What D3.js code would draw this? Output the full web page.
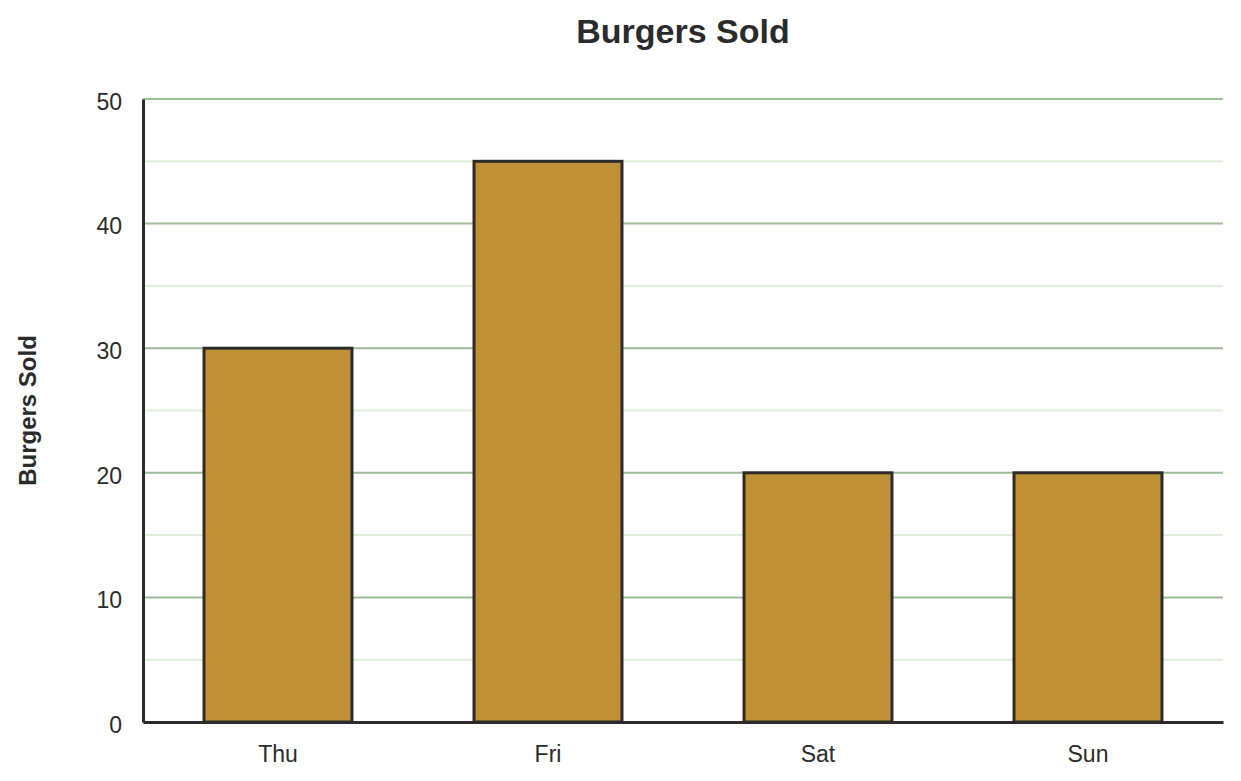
<!DOCTYPE html>
<html><head><meta charset="utf-8">
<script src="https://cdn.jsdelivr.net/npm/d3@7"></script>
<style>body{margin:0;background:#fff;font-family:Arial,"Liberation Sans",sans-serif;}</style>
</head><body><svg id="c" width="1241" height="781"></svg>
<script>
const categories = ["Thu","Fri","Sat","Sun"];
const values = [30,45,20,20];
const majorTicks = [0,10,20,30,40,50];
const minorTicks = [5,15,25,35,45];

const svg = d3.select("#c");
const m = {l:143, r:1223, t:99, b:722};
const x = d3.scaleBand().domain(categories).range([m.l,m.r]).paddingInner(0.452).paddingOuter(0.226);
const y = d3.scaleLinear().domain([0,50]).range([m.b,m.t]);

svg.append("g").selectAll("line").data(minorTicks).join("line")
  .attr("x1",m.l).attr("x2",m.r).attr("y1",d=>y(d)).attr("y2",d=>y(d))
  .attr("stroke","#dfeed6").attr("stroke-width",2);
svg.append("g").selectAll("line").data(majorTicks.filter(d=>d>0)).join("line")
  .attr("x1",m.l).attr("x2",m.r).attr("y1",d=>y(d)).attr("y2",d=>y(d))
  .attr("stroke","#9dbd98").attr("stroke-width",2);

svg.append("g").selectAll("rect").data(values).join("rect")
  .attr("x",(d,i)=>x(categories[i])).attr("width",x.bandwidth())
  .attr("y",d=>y(d)).attr("height",d=>y(0)-y(d))
  .attr("fill","#bf9036").attr("stroke","#2b2b2b").attr("stroke-width",3);

// axes
const ya = svg.append("g").attr("transform",`translate(${m.l},0)`)
  .call(d3.axisLeft(y).tickValues(majorTicks).tickSize(0).tickPadding(21));
ya.select(".domain").attr("stroke","#2b2b2b").attr("stroke-width",3);
ya.selectAll("text").attr("font-size",23).attr("dy","0.45em").attr("fill","#2b2b2b").attr("font-family","Arial,'Liberation Sans',sans-serif");

const xa = svg.append("g").attr("transform",`translate(0,${m.b})`)
  .call(d3.axisBottom(x).tickSize(0).tickPadding(24));
xa.select(".domain").attr("stroke","#2b2b2b").attr("stroke-width",3);
xa.selectAll("text").attr("font-size",23).attr("fill","#2b2b2b").attr("font-family","Arial,'Liberation Sans',sans-serif");

svg.append("text").attr("x",(m.l+m.r)/2).attr("y",43).attr("text-anchor","middle")
  .attr("font-size",34).attr("font-weight","bold").attr("fill","#2b2b2b").text("Burgers Sold");
svg.append("text").attr("transform",`translate(36,${(m.t+m.b)/2}) rotate(-90)`)
  .attr("text-anchor","middle").attr("font-size",24).attr("font-weight","bold").attr("fill","#2b2b2b").text("Burgers Sold");
</script></body></html>
